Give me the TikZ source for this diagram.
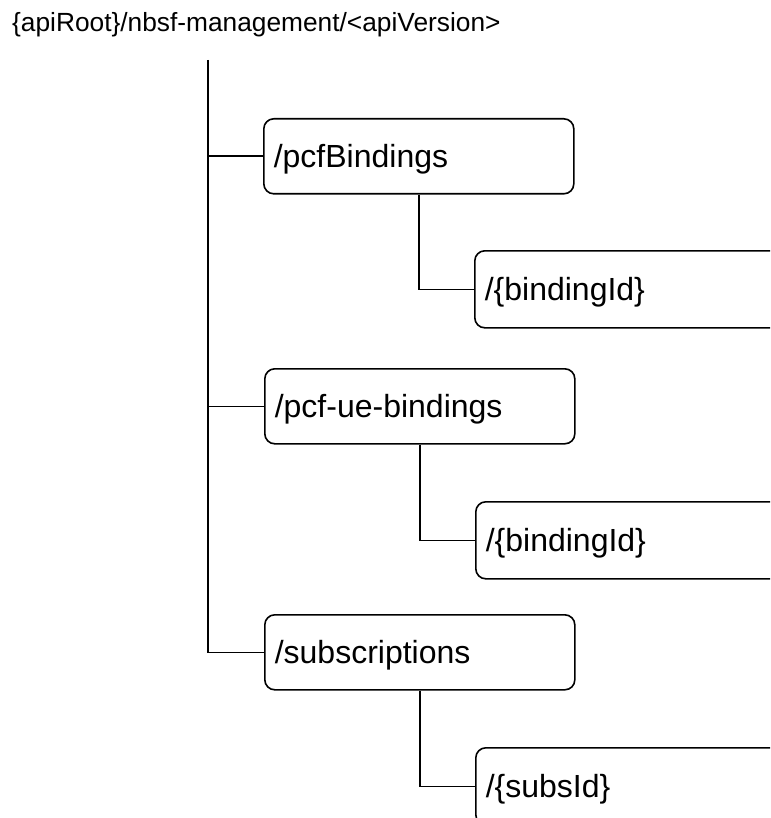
\documentclass[tikz,border=0pt]{standalone}
\usepackage{fontspec}
\setmainfont{Liberation Sans}
\begin{document}
\begin{tikzpicture}[x=1pt,y=-1pt,
  box/.style={draw, line width=1.6pt, rounded corners=10pt, minimum height=75pt,
    text width=290pt, align=left, inner xsep=10pt, inner ysep=0pt, anchor=north west,
    font=\fontsize{32}{38}\selectfont, text height=23pt, text depth=0pt},
  subbox/.style={box, minimum height=77pt, text width=300pt},
  conn/.style={line width=1.6pt}]
\useasboundingbox (0,0) rectangle (770,818);
\clip (0,0) rectangle (770,818);

\node[anchor=base west, inner sep=0pt, font=\fontsize{26.3}{30}\selectfont] (title) at (12,32)
  {\{apiRoot\}/nbsf-management/<apiVersion>};
\coordinate (top) at (208,60);

\node[box] (b1) at (263,118) {/pcfBindings};
\node[box] (b2) at (264,368) {/pcf-ue-bindings};
\node[box] (b3) at (264,614) {/subscriptions};

\node[subbox] (c1) at (474,250) {/\{bindingId\}};
\node[subbox] (c2) at (475,501) {/\{bindingId\}};
\node[subbox] (c3) at (475,747) {/\{subsId\}};

\draw[conn] (top) |- (b3.west);
\draw[conn] (top |- b1.west) -- (b1.west);
\draw[conn] (top |- b2.west) -- (b2.west);

\draw[conn] (b1.south) |- (c1.west);
\draw[conn] (b2.south) |- (c2.west);
\draw[conn] (b3.south) |- (c3.west);
\end{tikzpicture}
\end{document}
